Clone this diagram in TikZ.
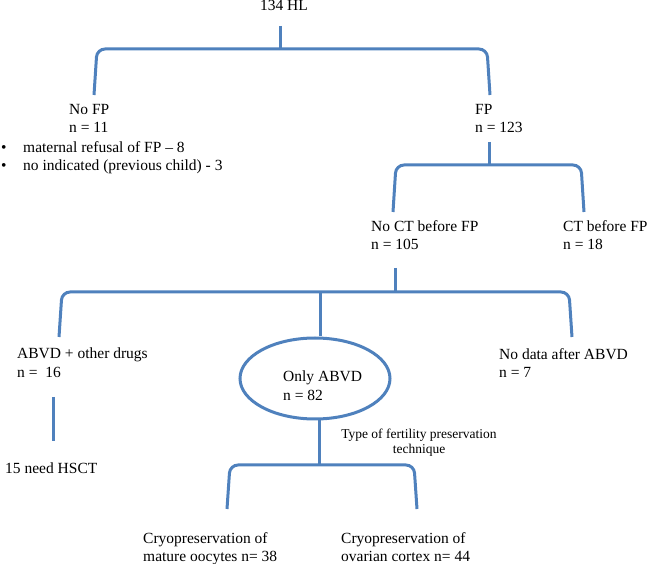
\documentclass[tikz,border=0pt]{standalone}
\usepackage{fontspec}
\setmainfont{Liberation Serif}
\usetikzlibrary{calc,shapes.geometric}
\definecolor{barblue}{RGB}{79,129,189}
\tikzset{
	lbl/.style={anchor=north west, inner sep=0pt, align=left, font=\fontsize{15.5}{18.5}\selectfont},
	smalllbl/.style={anchor=north, inner sep=0pt, align=center, font=\fontsize{13.5}{15}\selectfont},
	bar/.style={line width=3pt, color=barblue, rounded corners=8pt},
	oval/.style={draw=barblue, line width=3pt, ellipse, inner sep=0pt, minimum width=150pt, minimum height=81pt}
}
\def\bracket(#1)(#2)(#3){\draw[bar] (#2) -- ($(#2 |- #1)+(3,0)$) -- ($(#3 |- #1)+(-3,0)$) -- (#3);}

\begin{document}
\begin{tikzpicture}[x=1pt, y=-1pt]
			%%%%% START %%%%%
			\useasboundingbox (0,0) rectangle (649,564);
			
			\node[lbl, anchor=base] (hl) at (284,11) {134 HL};
			\coordinate (hlstem) at (280,26);
			\coordinate (bar1) at (280,49);
			\coordinate (nofpfoot) at (94,95);
			\coordinate (fpfoot) at (490,95);
			\draw[bar] (hlstem) -- (bar1);
			\bracket(bar1)(nofpfoot)(fpfoot)
			
			\node[lbl] (nofp) at (69,104) {No FP\\n = 11};
			\node[lbl] (reasons) at (1,141) {\makebox[22pt][l]{\textbullet}maternal refusal of FP – 8\\\makebox[22pt][l]{\textbullet}no indicated (previous child) - 3};
			\node[lbl] (fp) at (475,104) {FP\\n = 123};
			
			\coordinate (fpstem) at (489,142);
			\coordinate (bar2) at (489,165);
			\coordinate (noctfoot) at (393,212);
			\coordinate (ctfoot) at (584,212);
			\draw[bar] (fpstem) -- (bar2);
			\bracket(bar2)(noctfoot)(ctfoot)
			
			\node[lbl] (noct) at (371,220) {No CT before FP\\n = 105};
			\node[lbl] (ct) at (563,220) {CT before FP\\n = 18};
			
			\coordinate (noctstem) at (395,268);
			\coordinate (bar3) at (395,292);
			\coordinate (otherfoot) at (59,337);
			\coordinate (nodatafoot) at (572,337);
			\draw[bar] (noctstem) -- (bar3);
			\bracket(bar3)(otherfoot)(nodatafoot)
			
			\node[oval] (abvd) at (315,378.5) {};
			\coordinate (abvdstem) at (320,292);
			\draw[bar] (abvdstem) -- (abvdstem |- abvd.north);
			\node[lbl] (abvdtext) at (283,371) {Only ABVD\\n = 82};
			
			\node[lbl] (other) at (17,348) {ABVD + other drugs\\n =~~16};
			\node[lbl] (nodata) at (499,348) {No data after ABVD\\n = 7};
			
			\coordinate (hsctup) at (53,397);
			\coordinate (hsctdown) at (53,441);
			\draw[bar] (hsctup) -- (hsctdown);
			\node[lbl] (hsct) at (5,463) {15 need HSCT};
			
			\coordinate (bar4) at (319,465);
			\coordinate (oocytefoot) at (227,509);
			\coordinate (cortexfoot) at (417,509);
			\draw[bar] (bar4 |- abvd.south) -- (bar4);
			\bracket(bar4)(oocytefoot)(cortexfoot)
			\node[smalllbl] (technique) at (419,428.5) {Type of fertility preservation\\technique};
			
			\node[lbl] (oocytes) at (143,532) {Cryopreservation of\\mature oocytes n= 38};
			\node[lbl] (cortex) at (341,532) {Cryopreservation of\\ovarian cortex n= 44};
			
			%%%%% END %%%%%
\end{tikzpicture}
\end{document}
